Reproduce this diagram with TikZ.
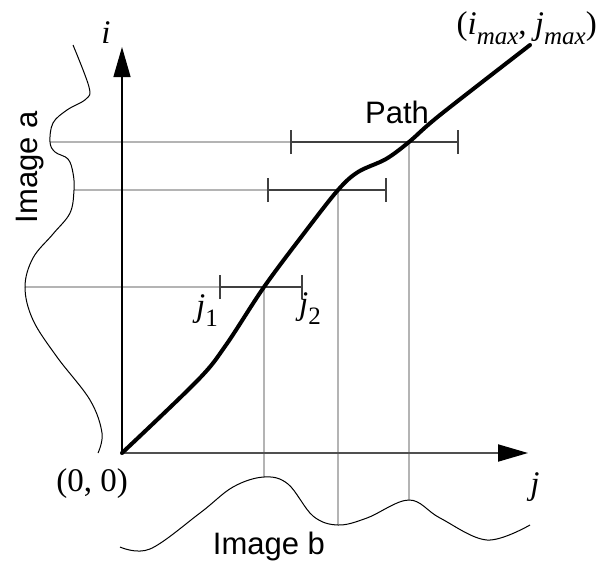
\documentclass[tikz,border=0pt]{standalone}
\usepackage{fontspec}
\setmainfont{Liberation Sans}
\newfontfamily\tmsfont{Liberation Serif}
\usetikzlibrary{arrows.meta}
\definecolor{guidec}{HTML}{B4B4B4}
\definecolor{spanc}{HTML}{404040}
\definecolor{axisc}{HTML}{505050}
\newcommand{\lowsub}[1]{\raisebox{-0.3em}{\fontsize{25}{28}\selectfont #1}}
\tikzset{
  axis/.style={-{Triangle[length=30pt,width=17pt,color=black]}, line width=1.3pt},
  trace/.style={line width=4pt, line join=round, line cap=round},
  guide/.style={guidec, line width=1.2pt},
  span/.style={spanc, line width=1.6pt, {Bar[width=24pt]}-{Bar[width=24pt]}},
  profile/.style={line width=1pt},
  sflbl/.style={font=\fontsize{31}{36}\selectfont, inner sep=0pt},
  mth/.style={font=\tmsfont\fontsize{33}{38}\selectfont\itshape, inner sep=0pt},
}

\begin{document}
\begin{tikzpicture}[x=1pt, y=-1pt]
  \useasboundingbox (0,0) rectangle (597,560);
  % axes
  \coordinate (O) at (122,453);
  \coordinate (itop) at (122,47);
  \coordinate (jend) at (528,453);
  % points on the path
  \coordinate (p1) at (264,287);
  \coordinate (p2) at (338,190);
  \coordinate (p3) at (409,142);
  % search windows
  \coordinate (w1l) at (219,287); \coordinate (w1r) at (303,287);
  \coordinate (w2l) at (267,190); \coordinate (w2r) at (387,190);
  \coordinate (w3l) at (290,142); \coordinate (w3r) at (459,142);
  % feet on the profiles
  \coordinate (qa1) at (25,287);
  \coordinate (qa2) at (74,190);
  \coordinate (qa3) at (50,142);
  \coordinate (qb1) at (264,477);
  \coordinate (qb2) at (338,525);
  \coordinate (qb3) at (409,500);

  \draw[guide] (qa1) -- (w1l);
  \draw[guide] (qa2) -- (w2l);
  \draw[guide] (qa3) -- (w3l);
  \draw[guide] (p1) -- (qb1);
  \draw[guide] (p2) -- (qb2);
  \draw[guide] (p3) -- (qb3);

  \draw[axis] (O) -- (itop);
  \draw[axis, axisc, line width=2pt] (O) -- (jend);

  \draw[span] (w1l) -- (w1r);
  \draw[span] (w2l) -- (w2r);
  \draw[span] (w3l) -- (w3r);

  \draw[trace] plot[smooth, tension=0.55] coordinates {(O) (198,380) (226,345) (p1)
    (305,232) (p2) (358,172) (386,159) (p3) (440,115) (530,45)};

  % image a, along i
  \draw[profile] plot[smooth, tension=0.6] coordinates {(73,45) (89,87) (86,99) (67,110)
    (53,123) (qa3) (55,152) (68,159) (73,173) (qa2) (70,213) (53,234) (33,258)
    (qa1) (33,320) (57,357) (90,400) (102,433) (98,453)};
  % image b, along j
  \draw[profile] plot[smooth, tension=0.6] coordinates {(120,547) (150,549) (200,513)
    (233,487) (qb1) (288,484) (313,516) (qb2) (367,518) (qb3) (440,518)
    (487,540) (530,525)};

  \node[mth] (ilbl) at (106,33) {i};
  \node[mth] (jlbl) at (535,487) {j};
  \node[mth] (olbl) at (92,484) {\upshape(0, 0)};
  \node[mth] (j1lbl) at (207,311) {j\lowsub{\upshape 1}};
  \node[mth] (j2lbl) at (310,309) {j\lowsub{\upshape 2}};
  \node[mth, anchor=east] (maxlbl) at (597,28) {\upshape(\itshape i\lowsub{max}\upshape, \itshape j\lowsub{max}\upshape)};
  \node[sflbl] (pathlbl) at (397,112) {Path};
  \node[sflbl, rotate=90] (albl) at (30,167) {Image a};
  \node[sflbl] (blbl) at (269,546) {Image b};
\end{tikzpicture}
\end{document}
